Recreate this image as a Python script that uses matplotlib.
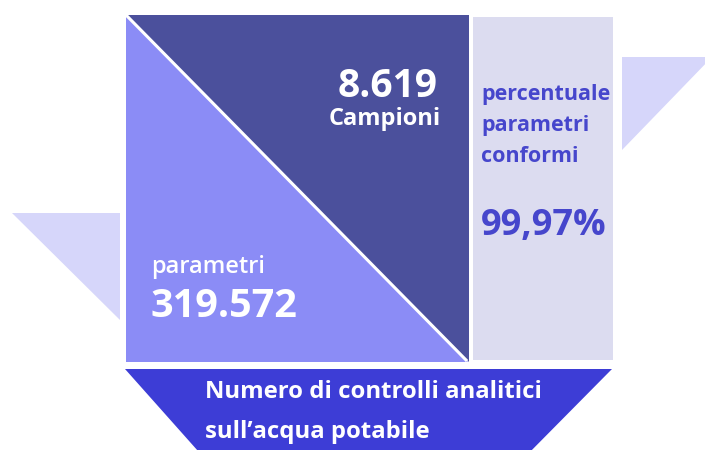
import matplotlib
matplotlib.use("Agg")
import matplotlib.pyplot as plt
from matplotlib.patches import Polygon

# ---- data ----
campioni_value = "8.619"
campioni_label = "Campioni"
parametri_label = "parametri"
parametri_value = "319.572"
conformi_label = ["percentuale", "parametri", "conformi"]
conformi_value = "99,97%"
title_lines = ["Numero di controlli analitici", "sull\u2019acqua potabile"]

# ---- colours ----
C_DARK = "#4b509c"
C_LIGHT = "#8b8cf6"
C_PANEL = "#dcdcf0"
C_BOTTOM = "#3d3dd6"
C_SIDE = "#d6d6fa"
C_TEXT_BLUE = "#4646cc"

plt.rcParams['font.family'] = ['Open Sans', 'DejaVu Sans']

fig = plt.figure(figsize=(7.05, 4.5), dpi=100)
ax = fig.add_axes([0, 0, 1, 1])
ax.set_xlim(0, 705)
ax.set_ylim(450, 0)
ax.axis('off')

def poly(pts, color, **kw):
    ax.add_patch(Polygon(pts, closed=True, facecolor=color, edgecolor='none', **kw))

# side triangles
poly([(12, 213), (120, 213), (120, 320)], C_SIDE)
poly([(622, 57), (712, 57), (622, 150)], C_SIDE)

# main square: light lower-left and dark upper-right triangles
poly([(126, 15), (126, 362), (468, 362)], C_LIGHT)
poly([(126, 15), (469, 15), (469, 362)], C_DARK)
ax.plot([126, 467], [15, 361], color='white', lw=2.2, solid_capstyle='butt')

# right panel
poly([(473, 17), (613, 17), (613, 360), (473, 360)], C_PANEL)

# bottom trapezoid
poly([(125, 369), (612, 369), (522, 460), (206, 460)], C_BOTTOM)

# texts
ax.text(438, 97, campioni_value, color='white', fontsize=28, fontweight='bold',
        ha='right', va='baseline')
ax.text(441, 125, campioni_label, color='white', fontsize=17, fontweight='bold',
        ha='right', va='baseline')

for i, line in enumerate(conformi_label):
    ax.text(481, 100 + i * 31, line, color=C_TEXT_BLUE, fontsize=15.5,
            fontweight='bold', ha='left', va='baseline')
ax.text(481, 235, conformi_value, color=C_TEXT_BLUE, fontsize=26,
        fontweight='bold', ha='left', va='baseline')

ax.text(151, 273, parametri_label, color='white', fontsize=17,
        fontweight='semibold', ha='left', va='baseline')
ax.text(150, 317, parametri_value, color='white', fontsize=28.5,
        fontweight='bold', ha='left', va='baseline')

ax.text(205, 398, title_lines[0], color='white', fontsize=17.2,
        fontweight='bold', ha='left', va='baseline')
ax.text(205, 438, title_lines[1], color='white', fontsize=17.2,
        fontweight='bold', ha='left', va='baseline')

fig.savefig("out.png", dpi=100, facecolor='white')
